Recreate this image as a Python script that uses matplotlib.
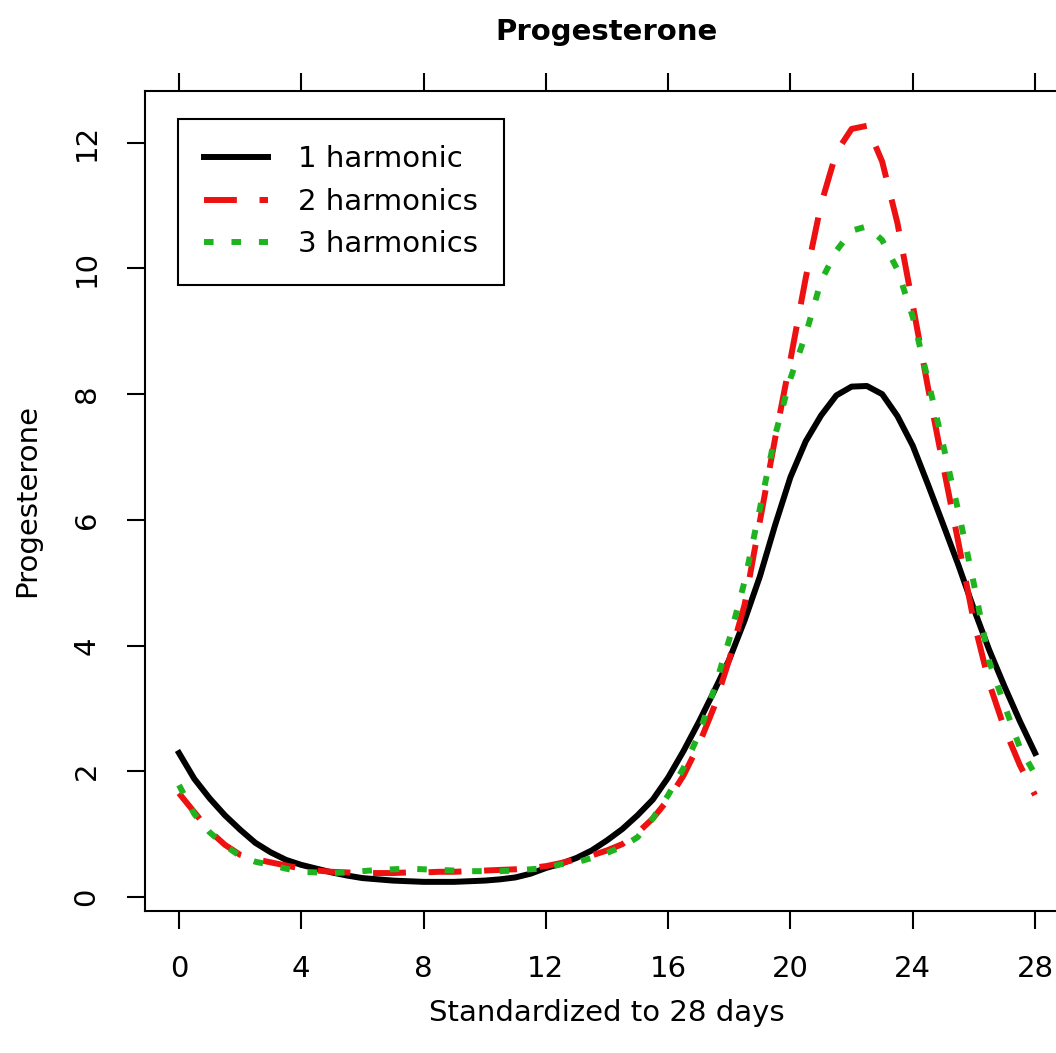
"""Progesterone curves over a cycle standardized to 28 days, 1-3 harmonic fits."""

import matplotlib

matplotlib.use("Agg")
import matplotlib.pyplot as plt

# day of cycle (standardized to 28 days), read every half day
days = [0, 0.5, 1, 1.5, 2, 2.5, 3, 3.5, 4, 4.5, 5, 5.5, 6, 6.5, 7, 7.5,
        8, 8.5, 9, 9.5, 10, 10.5, 11, 11.5, 12, 12.5, 13, 13.5, 14, 14.5,
        15, 15.5, 16, 16.5, 17, 17.5, 18, 18.5, 19, 19.5, 20, 20.5, 21,
        21.5, 22, 22.5, 23, 23.5, 24, 24.5, 25, 25.5, 26, 26.5, 27, 27.5, 28]

one_harmonic = [2.29, 1.88, 1.57, 1.30, 1.07, 0.86, 0.71, 0.59, 0.51, 0.45,
                0.39, 0.34, 0.30, 0.28, 0.26, 0.25, 0.24, 0.24, 0.24, 0.25,
                0.26, 0.28, 0.31, 0.37, 0.46, 0.53, 0.62, 0.74, 0.90, 1.08,
                1.30, 1.55, 1.90, 2.32, 2.78, 3.27, 3.78, 4.40, 5.10, 5.92,
                6.68, 7.25, 7.66, 7.98, 8.12, 8.13, 8.00, 7.65, 7.18, 6.56,
                5.92, 5.27, 4.58, 3.93, 3.35, 2.80, 2.29]

two_harmonics = [1.65, 1.35, 1.05, 0.83, 0.67, 0.60, 0.55, 0.50, 0.45, 0.42,
                 0.40, 0.39, 0.38, 0.38, 0.38, 0.39, 0.39, 0.40, 0.40, 0.41,
                 0.42, 0.43, 0.44, 0.46, 0.49, 0.54, 0.60, 0.66, 0.74, 0.84,
                 1.02, 1.25, 1.55, 1.93, 2.42, 3.02, 3.78, 4.65, 5.98, 7.30,
                 8.55, 9.85, 11.02, 11.85, 12.22, 12.27, 11.70, 10.72, 9.42,
                 8.10, 6.85, 5.62, 4.38, 3.40, 2.68, 2.10, 1.62]

three_harmonics = [1.78, 1.32, 1.03, 0.82, 0.65, 0.56, 0.51, 0.45, 0.40, 0.39,
                   0.38, 0.39, 0.41, 0.43, 0.44, 0.45, 0.44, 0.43, 0.42, 0.41,
                   0.41, 0.41, 0.42, 0.44, 0.46, 0.52, 0.55, 0.62, 0.70, 0.80,
                   0.95, 1.25, 1.62, 2.05, 2.58, 3.30, 4.10, 5.02, 6.18, 7.35,
                   8.25, 8.95, 9.80, 10.28, 10.60, 10.67, 10.45, 9.98, 9.23,
                   8.22, 7.18, 6.12, 4.98, 3.75, 3.05, 2.38, 1.95]

labels = ["1 harmonic", "2 harmonics", "3 harmonics"]
x_ticks = [0, 4, 8, 12, 16, 20, 24, 28]
y_ticks = [0, 2, 4, 6, 8, 10, 12]

FS = 21
RED = "#ee1111"
GREEN = "#1fb41f"

plt.rcParams["font.family"] = ["DejaVu Sans"]

fig = plt.figure(figsize=(10.56, 10.53), dpi=100)
ax = fig.add_axes([0.1373, 0.1349, 0.875, 0.7787])

lw = 4.3
ax.plot(days, one_harmonic, color="black", linewidth=lw, label=labels[0],
        solid_joinstyle="round")
ax.plot(days, two_harmonics, color=RED, linewidth=lw, label=labels[1],
        dashes=(5.5, 3.8))
ax.plot(days, three_harmonics, color=GREEN, linewidth=lw, label=labels[2],
        dashes=(1.6, 3.0))

ax.set_xlim(-1.112, 29.11)
ax.set_ylim(-0.223, 12.824)
ax.set_xticks(x_ticks)
ax.set_yticks(y_ticks)

for sp in ax.spines.values():
    sp.set_linewidth(1.5)

ax.tick_params(axis="both", direction="out", length=13, width=1.5,
               pad=19, labelsize=FS, top=True, labeltop=False,
               right=False)
plt.setp(ax.get_yticklabels(), rotation=90, va="center")

ax.set_title("Progesterone", fontsize=FS, fontweight="bold", pad=37)
ax.set_xlabel("Standardized to 28 days", fontsize=FS)
ax.xaxis.set_label_coords(0.5, -0.107)
ax.set_ylabel("Progesterone", fontsize=FS)
ax.yaxis.set_label_coords(-0.112, 0.5)

leg = ax.legend(loc="upper left", bbox_to_anchor=(0.0357, 0.9659),
                borderaxespad=0, fontsize=FS, fancybox=False,
                edgecolor="black", framealpha=1, handlelength=2.2,
                handletextpad=1.0, borderpad=0.9, labelspacing=0.5)
leg.get_frame().set_linewidth(1.5)

fig.savefig("out.png", dpi=100)
plt.close(fig)
